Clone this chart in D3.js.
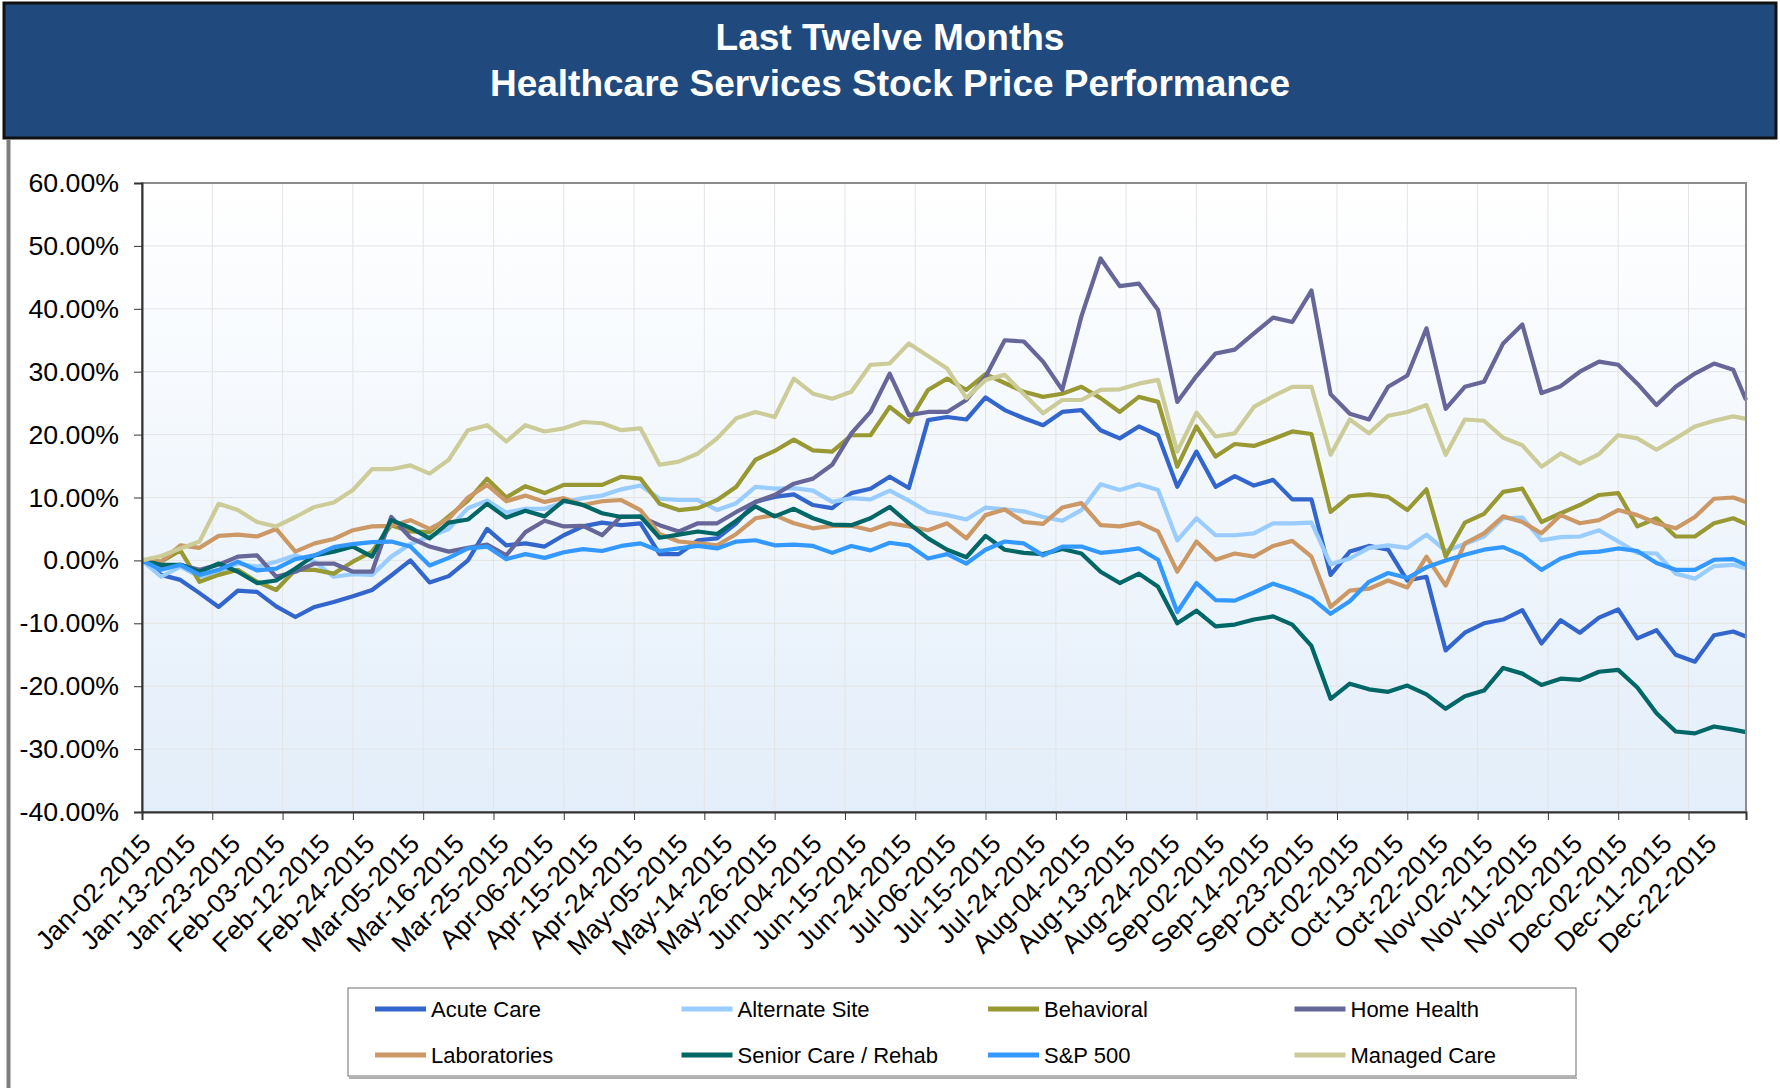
<!DOCTYPE html>
<meta charset="utf-8">
<html>
<head>
<script src="https://d3js.org/d3.v7.min.js" charset="utf-8"></script>
<style>
body { margin: 0; background: #fff; }
text { font-family: "Liberation Sans", Arial, sans-serif; }
.axis text { font-size: 26.7px; fill: #000; }
.axis path, .axis line { stroke: #333; }
.grid line { stroke: #e4e4e4; stroke-width: 1; }
.legend text { font-size: 22px; fill: #000; }
</style>
</head>
<body>
<svg width="1780" height="1088"></svg>
<script>
// x labels, one every 7 trading days
var tickLabels = ["Jan-02-2015","Jan-13-2015","Jan-23-2015","Feb-03-2015","Feb-12-2015","Feb-24-2015",
  "Mar-05-2015","Mar-16-2015","Mar-25-2015","Apr-06-2015","Apr-15-2015","Apr-24-2015",
  "May-05-2015","May-14-2015","May-26-2015","Jun-04-2015","Jun-15-2015","Jun-24-2015",
  "Jul-06-2015","Jul-15-2015","Jul-24-2015","Aug-04-2015","Aug-13-2015","Aug-24-2015",
  "Sep-02-2015","Sep-14-2015","Sep-23-2015","Oct-02-2015","Oct-13-2015","Oct-22-2015",
  "Nov-02-2015","Nov-11-2015","Nov-20-2015","Dec-02-2015","Dec-11-2015","Dec-22-2015"];

// trading day index of each sample (0 = Jan-02, 251 = Dec-31)
var days = d3.range(0, 250, 3).concat([251]);

// % change since Jan-02
var acuteCare = [0,-2.3,-3.1,-5.2,-7.4,-4.8,-5.0,-7.3,-9.0,-7.4,-6.6,-5.7,-4.7,-2.4,0.0,
  -3.5,-2.5,0.0,5.0,2.4,2.7,2.2,4.0,5.4,6.0,5.6,5.9,1.0,1.0,
  3.2,3.5,5.9,9.3,10.1,10.5,8.8,8.3,10.7,11.4,13.3,11.5,22.3,22.8,
  22.4,25.9,23.9,22.6,21.5,23.6,23.9,20.7,19.4,21.3,19.9,11.7,17.3,11.7,
  13.4,11.9,12.8,9.7,9.7,-2.3,1.4,2.3,1.7,-3.2,-2.6,-14.3,-11.5,-10.0,-9.4,
  -7.9,-13.2,-9.5,-11.5,-9.1,-7.8,-12.4,-11.1,-15.0,-16.1,-11.9,-11.3,-12.1];
var alternateSite = [0,-2.6,-1.0,-2.6,-1.8,-0.5,-1.0,-0.2,0.8,-0.2,-2.6,-2.2,-2.3,0.6,2.6,
  3.8,5.0,8.3,9.5,7.6,8.2,8.2,9.2,9.9,10.3,11.3,11.9,9.8,9.6,
  9.6,8.0,9.1,11.7,11.4,11.5,11.1,9.3,9.9,9.7,11.1,9.5,7.7,7.2,
  6.5,8.4,8.1,7.8,6.9,6.3,8.0,12.1,11.2,12.1,11.2,3.2,6.7,4.0,
  4.0,4.3,5.9,5.9,6.0,-0.6,0.3,2.0,2.4,2.0,4.1,1.5,2.6,3.8,6.7,
  6.8,3.2,3.7,3.8,4.8,3.0,1.2,1.1,-2.1,-2.9,-0.9,-0.7,-1.3];
var behavioral = [0,-0.2,1.6,-3.4,-2.3,-1.5,-3.4,-4.7,-1.5,-1.5,-2.1,-0.2,1.4,5.6,4.6,
  4.5,7.0,9.5,13.0,10.0,11.8,10.7,12.0,12.0,12.0,13.3,13.0,9.0,8.0,
  8.3,9.6,11.7,16.0,17.4,19.2,17.5,17.3,19.9,19.9,24.4,22.0,27.1,28.9,
  27.1,29.6,28.2,26.8,26.0,26.5,27.6,25.8,23.6,26.0,25.2,14.9,21.3,16.5,
  18.5,18.2,19.3,20.5,20.1,7.7,10.2,10.5,10.1,8.0,11.3,0.6,6.0,7.4,10.9,
  11.4,6.1,7.5,8.8,10.4,10.7,5.4,6.7,3.8,3.8,5.9,6.7,5.8];
var homeHealth = [0,-1.0,-0.7,-1.5,-0.7,0.6,0.8,-2.6,-1.8,-0.5,-0.5,-1.8,-1.8,6.9,3.6,
  2.2,1.4,2.0,2.5,0.8,4.5,6.3,5.4,5.5,4.0,7.0,6.9,5.6,4.6,
  5.9,5.9,7.7,9.3,10.4,12.2,13.0,15.2,20.2,23.6,29.7,23.1,23.6,23.6,
  25.5,29.2,35.0,34.8,31.6,27.1,38.8,48.0,43.6,44.0,39.8,25.2,29.3,32.9,
  33.5,36.1,38.6,37.9,42.9,26.4,23.3,22.4,27.6,29.4,36.9,24.1,27.6,28.4,34.5,
  37.5,26.6,27.7,30.0,31.6,31.1,28.1,24.7,27.6,29.7,31.3,30.3,25.5];
var laboratories = [0,-0.2,2.4,2.0,3.9,4.1,3.8,5.0,1.4,2.7,3.4,4.8,5.4,5.5,6.4,
  5.0,6.6,10.0,12.0,9.4,10.3,9.3,9.9,8.8,9.4,9.6,8.0,4.2,3.0,
  2.7,2.4,4.2,6.7,7.2,5.9,5.1,5.5,5.5,4.8,5.9,5.4,4.8,5.9,
  3.5,7.2,8.1,6.1,5.8,8.4,9.1,5.6,5.4,6.0,4.6,-1.8,3.0,0.1,
  1.1,0.6,2.3,3.1,0.6,-7.4,-4.8,-4.5,-3.2,-4.3,0.6,-4.0,2.7,4.3,7.0,
  6.1,4.3,7.2,5.9,6.4,8.0,7.2,5.9,5.1,6.9,9.8,10.0,9.3];
var seniorCare = [0,-0.7,-0.7,-1.8,-0.5,-1.8,-3.6,-3.2,-1.3,0.8,1.4,2.2,0.6,6.4,5.2,
  3.5,6.0,6.5,9.0,6.8,7.9,7.0,9.5,8.8,7.5,6.9,7.0,3.6,4.1,
  4.6,4.2,6.3,8.6,7.0,8.2,6.7,5.7,5.6,6.7,8.5,5.9,3.5,1.7,
  0.5,3.9,1.7,1.2,1.0,1.8,1.1,-1.8,-3.6,-2.1,-4.2,-10.0,-8.0,-10.5,
  -10.2,-9.4,-8.9,-10.2,-13.6,-22.0,-19.6,-20.5,-20.9,-19.9,-21.3,-23.6,-21.6,-20.7,-17.1,
  -18.0,-19.8,-18.8,-19.0,-17.7,-17.4,-20.2,-24.3,-27.2,-27.5,-26.4,-26.9,-27.3];
var sp500 = [0,-1.5,-0.7,-2.3,-1.5,-0.2,-1.6,-1.3,0.2,0.8,2.1,2.6,2.9,3.0,2.2,
  -0.8,0.4,1.9,2.2,0.2,1.0,0.4,1.3,1.8,1.5,2.3,2.7,1.5,1.9,
  2.3,1.9,3.0,3.2,2.4,2.5,2.3,1.2,2.3,1.6,2.8,2.4,0.3,1.0,
  -0.5,1.7,3.0,2.7,0.8,2.2,2.2,1.2,1.5,1.9,0.1,-8.2,-3.6,-6.3,
  -6.4,-5.1,-3.7,-4.7,-6.0,-8.5,-6.5,-3.4,-2.0,-2.8,-1.1,0.0,0.9,1.7,2.1,
  0.8,-1.5,0.3,1.2,1.4,1.9,1.5,-0.4,-1.5,-1.5,0.1,0.2,-0.7];
var managedCare = [0,0.7,1.9,3.0,9.0,8.0,6.1,5.4,6.9,8.5,9.2,11.2,14.5,14.5,15.1,
  13.8,16.0,20.7,21.5,18.9,21.5,20.5,21.0,22.0,21.8,20.7,21.0,15.2,15.7,
  17.0,19.4,22.6,23.6,22.8,28.9,26.5,25.7,26.8,31.1,31.3,34.5,32.5,30.5,
  25.8,28.7,29.5,26.4,23.4,25.5,25.5,27.1,27.2,28.1,28.7,17.3,23.5,19.7,
  20.2,24.4,26.1,27.6,27.6,16.8,22.4,20.2,23.0,23.6,24.7,16.8,22.4,22.2,19.5,
  18.3,14.9,17.0,15.4,16.9,19.9,19.4,17.6,19.4,21.3,22.2,22.9,22.5];

var seriesNames = ["Acute Care", "Alternate Site", "Behavioral", "Home Health",
  "Laboratories", "Senior Care / Rehab", "S&P 500", "Managed Care"];
var seriesValues = [acuteCare, alternateSite, behavioral, homeHealth,
  laboratories, seniorCare, sp500, managedCare];
var seriesColors = ["#3366cc", "#99ccff", "#999933", "#666699",
  "#cc9966", "#006666", "#3399ff", "#cccc99"];

var svg = d3.select("svg"),
    margin = {top: 183, left: 142},
    width = 1604,
    height = 629;

// title band
svg.append("rect")
    .attr("x", 4).attr("y", 3)
    .attr("width", 1772).attr("height", 135)
    .attr("fill", "#204a7d")
    .attr("stroke", "#111").attr("stroke-width", 3);

svg.append("text")
    .attr("x", 890).attr("y", 50)
    .attr("text-anchor", "middle")
    .attr("fill", "#fff").attr("font-weight", "bold").attr("font-size", 37)
    .text("Last Twelve Months");
svg.append("text")
    .attr("x", 890).attr("y", 96)
    .attr("text-anchor", "middle")
    .attr("fill", "#fff").attr("font-weight", "bold").attr("font-size", 37)
    .text("Healthcare Services Stock Price Performance");

// left frame edge
svg.append("line")
    .attr("x1", 8.5).attr("x2", 8.5).attr("y1", 139).attr("y2", 1088)
    .attr("stroke", "#7f7f7f").attr("stroke-width", 4);

var defs = svg.append("defs");
var grad = defs.append("linearGradient")
    .attr("id", "plotbg").attr("x1", 0).attr("y1", 0).attr("x2", 0).attr("y2", 1);
grad.append("stop").attr("offset", "0%").attr("stop-color", "#ffffff");
grad.append("stop").attr("offset", "100%").attr("stop-color", "#e3eefa");

var g = svg.append("g").attr("transform", "translate(" + margin.left + "," + margin.top + ")");

var x = d3.scaleLinear().domain([0, 251]).range([0, width]);
var y = d3.scaleLinear().domain([-40, 60]).range([height, 0]);

g.append("rect")
    .attr("width", width).attr("height", height)
    .attr("fill", "url(#plotbg)");

// gridlines
var grid = g.append("g").attr("class", "grid");
grid.selectAll(".h")
  .data(d3.range(-30, 60, 10))
  .enter().append("line")
    .attr("x1", 0).attr("x2", width)
    .attr("y1", function(d) { return y(d); })
    .attr("y2", function(d) { return y(d); });
grid.selectAll(".v")
  .data(d3.range(11, 251, 11))
  .enter().append("line")
    .attr("y1", 0).attr("y2", height)
    .attr("x1", function(d) { return x(d); })
    .attr("x2", function(d) { return x(d); });

// series
var line = d3.line()
    .x(function(d, i) { return x(days[i]); })
    .y(function(d) { return y(d); });

g.selectAll(".series")
  .data(seriesValues)
  .enter().append("path")
    .attr("class", "series")
    .attr("fill", "none")
    .attr("stroke", function(d, i) { return seriesColors[i]; })
    .attr("stroke-width", 4.2)
    .attr("stroke-linejoin", "round")
    .attr("d", line);

// plot frame
g.append("rect")
    .attr("width", width).attr("height", height)
    .attr("fill", "none")
    .attr("stroke", "#8c8c8c").attr("stroke-width", 2);

// axes
g.append("g")
    .attr("class", "axis")
    .call(d3.axisLeft(y)
      .tickValues(d3.range(-40, 61, 10))
      .tickFormat(function(d) { return d.toFixed(2) + "%"; })
      .tickSize(8).tickPadding(15))
    .call(function(a) { a.select(".domain").attr("stroke-width", 2); });

g.append("g")
    .attr("class", "axis")
    .attr("transform", "translate(0," + height + ")")
    .call(d3.axisBottom(x)
      .tickValues(d3.range(0, 252, 11))
      .tickFormat("")
      .tickSize(8))
    .call(function(a) { a.select(".domain").attr("stroke-width", 2); });

g.append("g")
    .attr("class", "axis")
  .selectAll("text")
  .data(tickLabels)
  .enter().append("text")
    .attr("text-anchor", "end")
    .attr("dy", "0.35em")
    .attr("transform", function(d, i) {
      return "translate(" + (x(i * 7) + 4) + "," + (height + 27) + ") rotate(-45)";
    })
    .text(function(d) { return d; });

// legend
var legend = svg.append("g").attr("class", "legend");
legend.append("rect")
    .attr("x", 348).attr("y", 988)
    .attr("width", 1228).attr("height", 88)
    .attr("fill", "#fff")
    .attr("stroke", "#6f6f6f").attr("stroke-width", 1);
legend.append("line")
    .attr("x1", 349).attr("x2", 1577).attr("y1", 1078).attr("y2", 1078)
    .attr("stroke", "#b0b0b0").attr("stroke-width", 2);

var item = legend.selectAll(".item")
  .data(seriesNames)
  .enter().append("g")
    .attr("class", "item")
    .attr("transform", function(d, i) {
      return "translate(" + (375 + (i % 4) * 306.5) + "," + (1009 + Math.floor(i / 4) * 46) + ")";
    });
item.append("line")
    .attr("x1", 0).attr("x2", 51)
    .attr("stroke", function(d, i) { return seriesColors[i]; })
    .attr("stroke-width", 5);
item.append("text")
    .attr("x", 56).attr("dy", "0.35em")
    .text(function(d) { return d; });
</script>
</body>
</html>
